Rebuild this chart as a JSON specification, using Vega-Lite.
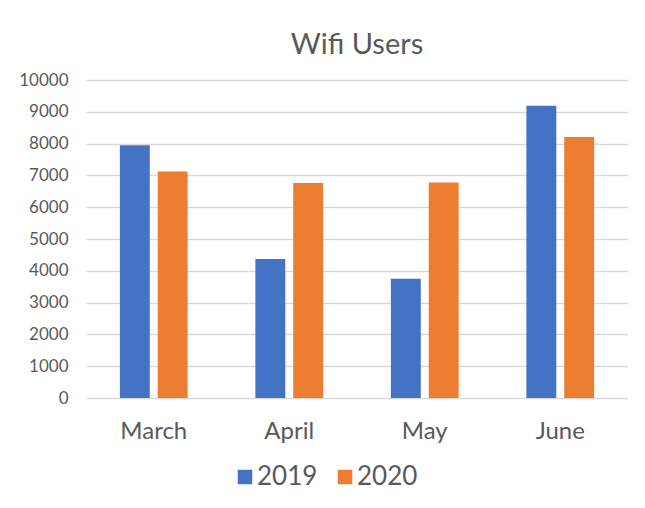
{
  "$schema": "https://vega.github.io/schema/vega-lite/v6.json",
  "autosize": {"type": "none"},
  "padding": {"left": 86, "top": 80, "right": 17, "bottom": 110},
  "width": 542,
  "height": 318,
  "background": "white",
  "title": {"text": "Wifi Users", "fontSize": 29, "font": "Lato", "fontWeight": "normal", "color": "#595959", "offset": 11},
  "data": {"values": [
    {"month": "March", "year": "2019", "users": 7950},
    {"month": "March", "year": "2020", "users": 7120},
    {"month": "April", "year": "2019", "users": 4370},
    {"month": "April", "year": "2020", "users": 6760},
    {"month": "May", "year": "2019", "users": 3750},
    {"month": "May", "year": "2020", "users": 6780},
    {"month": "June", "year": "2019", "users": 9190},
    {"month": "June", "year": "2020", "users": 8210}
  ]},
  "mark": {"type": "bar"},
  "encoding": {
    "x": {"field": "month", "type": "nominal", "sort": ["March", "April", "May", "June"],
      "scale": {"paddingInner": 0.5, "paddingOuter": 0.25},
      "axis": {"title": null, "labelAngle": 0, "domain": false, "ticks": false, "labelPadding": 21, "labelFontSize": 24, "labelFont": "Lato", "labelColor": "#595959"}},
    "xOffset": {"field": "year", "type": "nominal", "scale": {"paddingInner": 0.21}},
    "y": {"field": "users", "type": "quantitative",
      "scale": {"domain": [0, 10000]},
      "axis": {"title": null, "values": [0,1000,2000,3000,4000,5000,6000,7000,8000,9000,10000], "format": "d", "labelOverlap": false, "domain": false, "ticks": false, "labelPadding": 18, "labelFontSize": 17, "labelFont": "Lato", "labelColor": "#595959", "gridColor": "#D9D9D9", "gridWidth": 1.5}},
    "color": {"field": "year", "type": "nominal",
      "scale": {"domain": ["2019", "2020"], "range": ["#4472C4", "#ED7D31"]},
      "legend": {"title": null, "orient": "none", "direction": "horizontal", "legendX": 146, "legendY": 384, "symbolType": "square", "symbolSize": 210, "symbolStrokeWidth": 0, "labelFontSize": 26, "labelFont": "Lato", "labelColor": "#595959", "columnPadding": 14, "labelOffset": -1}}
  },
  "config": {"view": {"stroke": null}}
}
